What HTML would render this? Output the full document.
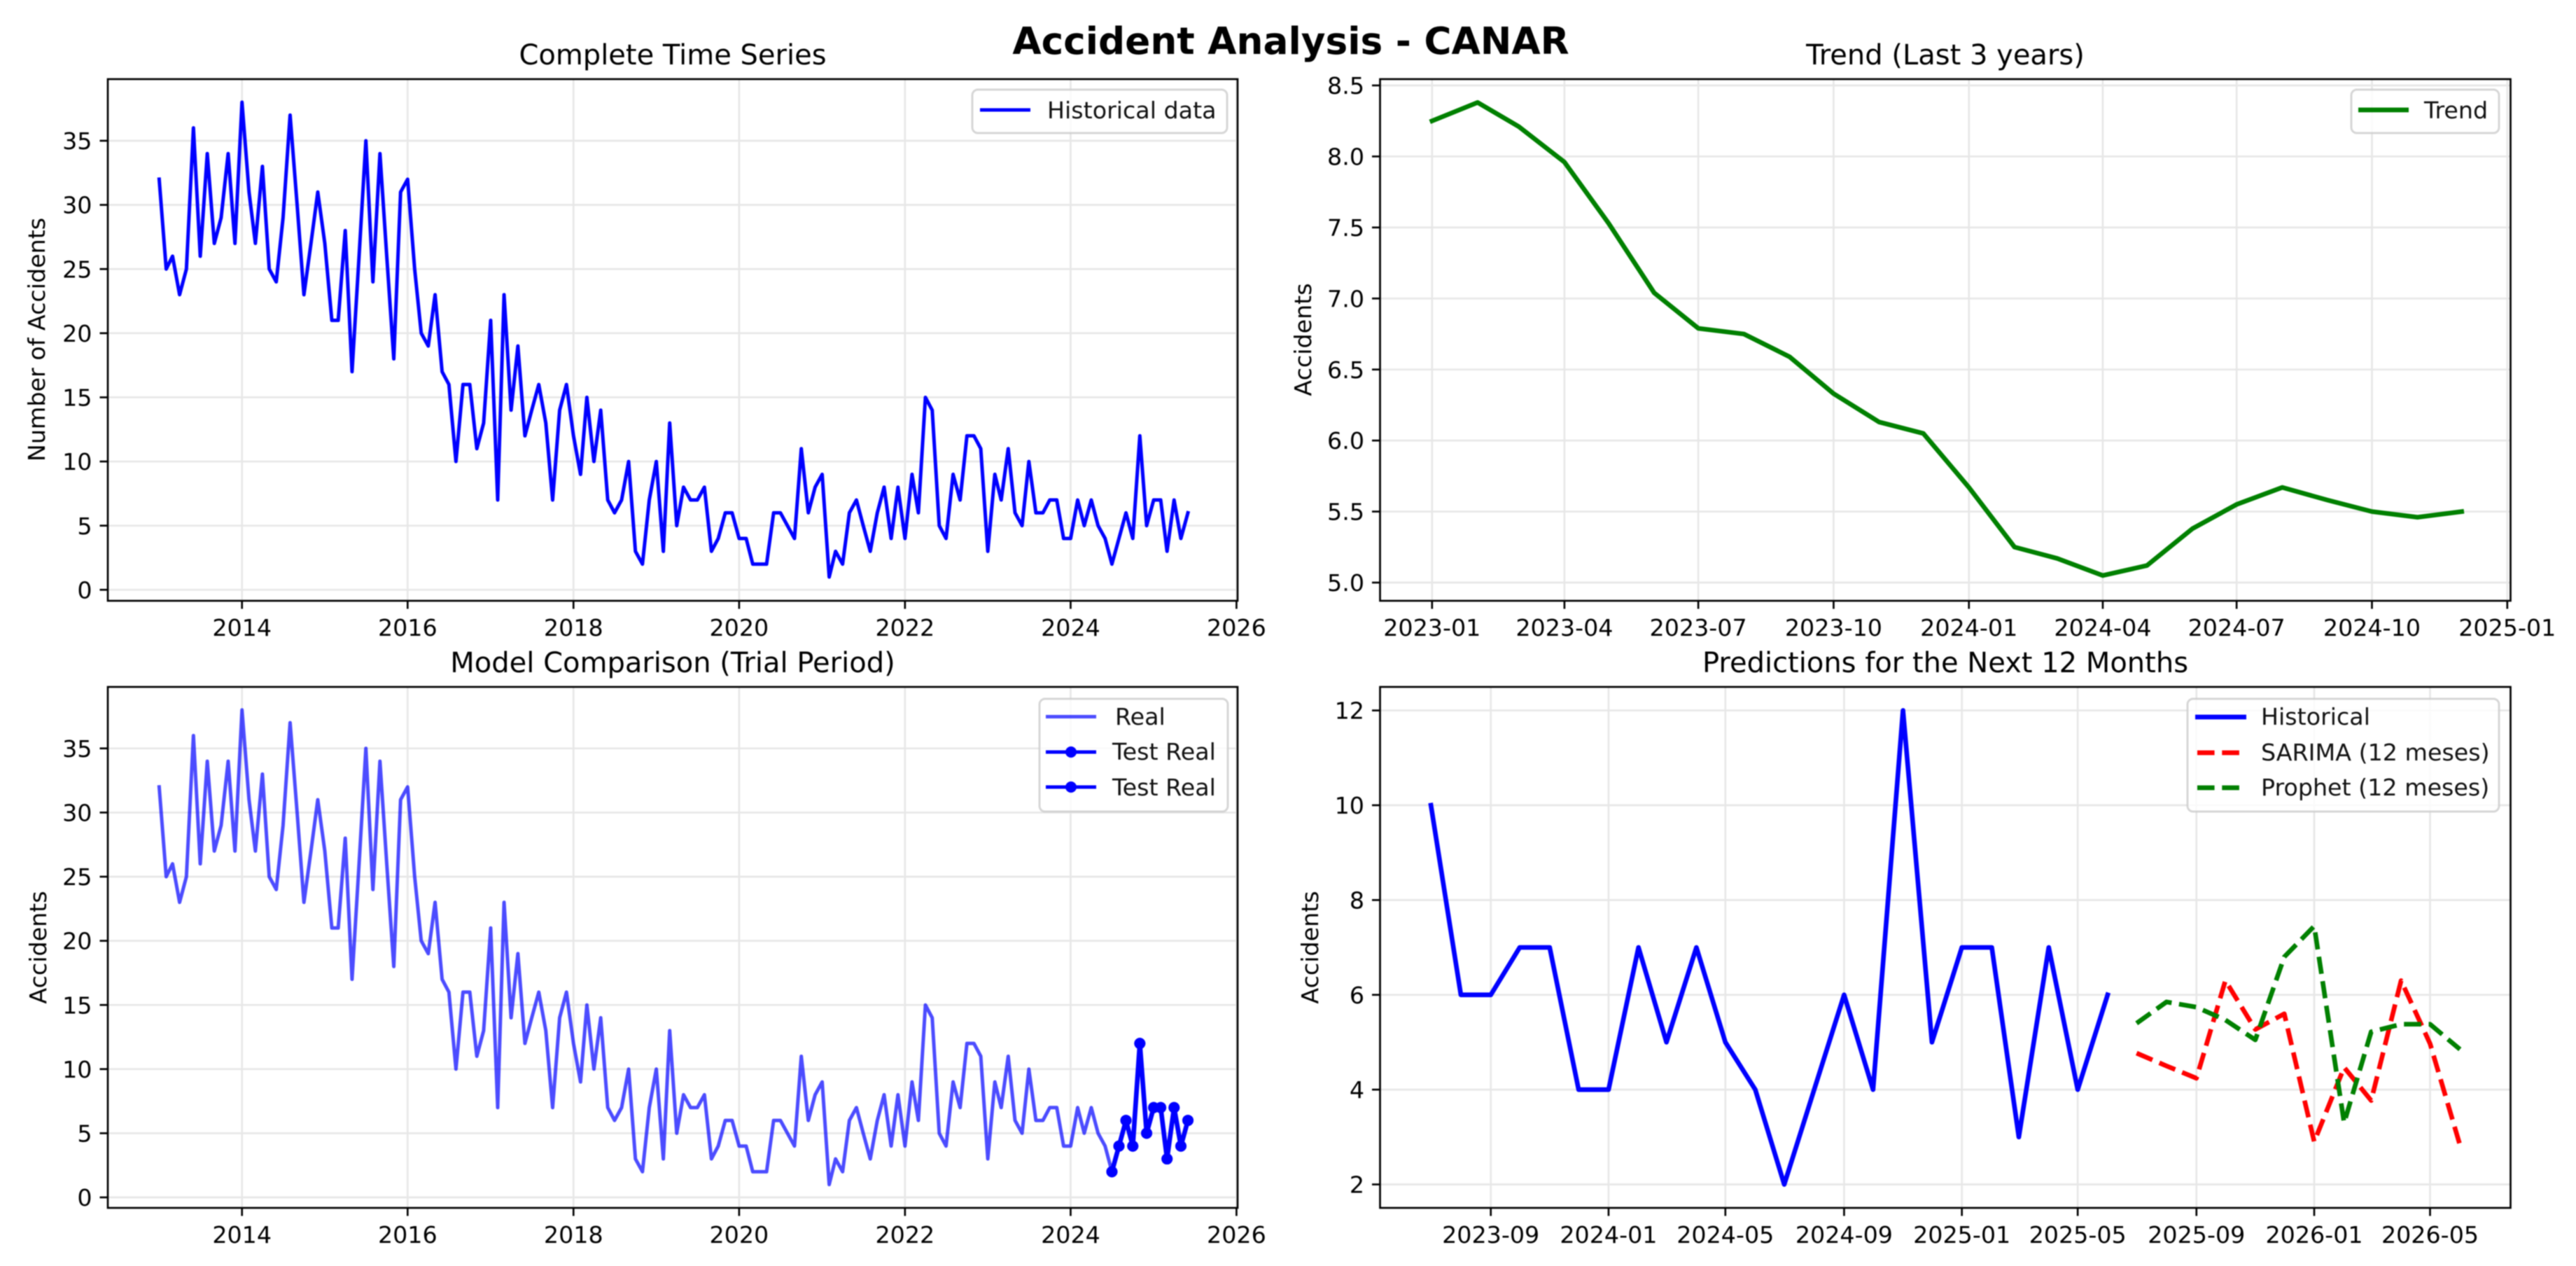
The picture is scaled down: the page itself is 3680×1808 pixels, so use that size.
<!DOCTYPE html>
<html lang="en">
<head>
<meta charset="utf-8">
<title>Accident Analysis - CANAR</title>
<style>
  html, body { margin: 0; padding: 0; background: #fff; }
  #figure { display: block; width: 3680px; height: 1808px; background: #fff; filter: blur(0.9px); }
  text { font-family: "DejaVu Sans", "Liberation Sans", sans-serif; fill: #000; }
  .tick-text, .axis-title, .legend-text { font-size: 33.3px; }
  .panel-title { font-size: 40px; text-anchor: middle; }
  .legend-text { fill: #111; }
</style>
</head>
<body>
<svg id="figure" xmlns="http://www.w3.org/2000/svg" width="3680" height="1808" viewBox="0 0 3680 1808">
  <rect x="0" y="0" width="3680" height="1808" fill="#ffffff"/>

  <g id="panel-history"></g>
  <g id="panel-trend"></g>
  <g id="panel-comparison"></g>
  <g id="panel-forecast"></g>

  <text x="1844" y="77" text-anchor="middle" style="font-weight:700;font-size:53.3px">Accident Analysis - CANAR</text>
  <text class="panel-title" x="961" y="92">Complete Time Series</text>
  <text class="panel-title" x="2779" y="92">Trend (Last 3 years)</text>
  <text class="panel-title" x="961" y="960">Model Comparison (Trial Period)</text>
  <text class="panel-title" x="2779" y="960">Predictions for the Next 12 Months</text>

  <text class="axis-title" transform="translate(64,485) rotate(-90)" text-anchor="middle">Number of Accidents</text>
  <text class="axis-title" transform="translate(1873,485) rotate(-90)" text-anchor="middle">Accidents</text>
  <text class="axis-title" transform="translate(66,1353) rotate(-90)" text-anchor="middle">Accidents</text>
  <text class="axis-title" transform="translate(1883,1353) rotate(-90)" text-anchor="middle">Accidents</text>

  <g>
    <rect x="1389" y="128" width="364" height="62" rx="8" fill="#ffffff" fill-opacity="0.8" stroke="#cccccc" stroke-opacity="0.8" stroke-width="3"/>
    <line x1="1400" x2="1472" y1="157" y2="157" stroke="#0000ff" stroke-width="5"/>
    <text class="legend-text" x="1496" y="169">Historical data</text>
  </g>

  <g>
    <rect x="3359" y="128" width="211" height="62" rx="8" fill="#ffffff" fill-opacity="0.8" stroke="#cccccc" stroke-opacity="0.8" stroke-width="3"/>
    <line x1="3369" x2="3441" y1="157" y2="157" stroke="#008000" stroke-width="6.67"/>
    <text class="legend-text" x="3463" y="169">Trend</text>
  </g>

  <g>
    <rect x="1485" y="998" width="269" height="161" rx="8" fill="#ffffff" fill-opacity="0.8" stroke="#cccccc" stroke-opacity="0.8" stroke-width="3"/>
    <line x1="1494" x2="1566" y1="1023.5" y2="1023.5" stroke="#0000ff" stroke-opacity="0.7" stroke-width="5"/>
    <text class="legend-text" x="1593" y="1035">Real</text>
    <line x1="1494" x2="1566" y1="1074" y2="1074" stroke="#0000ff" stroke-width="5"/>
    <circle cx="1530" cy="1074" r="8" fill="#0000ff"/>
    <text class="legend-text" x="1589" y="1085">Test Real</text>
    <line x1="1494" x2="1566" y1="1124" y2="1124" stroke="#0000ff" stroke-width="5"/>
    <circle cx="1530" cy="1124" r="8" fill="#0000ff"/>
    <text class="legend-text" x="1589" y="1136">Test Real</text>
  </g>

  <g>
    <rect x="3125" y="998" width="445" height="161" rx="8" fill="#ffffff" fill-opacity="0.8" stroke="#cccccc" stroke-opacity="0.8" stroke-width="3"/>
    <line x1="3136" x2="3209" y1="1024" y2="1024" stroke="#0000ff" stroke-width="6.67"/>
    <text class="legend-text" x="3230" y="1035">Historical</text>
    <line x1="3139" x2="3209" y1="1075" y2="1075" stroke="#ff0000" stroke-width="6.67" stroke-dasharray="24.6 10.7"/>
    <text class="legend-text" x="3230" y="1086">SARIMA (12 meses)</text>
    <line x1="3139" x2="3209" y1="1125" y2="1125" stroke="#008000" stroke-width="6.67" stroke-dasharray="24.6 10.7"/>
    <text class="legend-text" x="3230" y="1136">Prophet (12 meses)</text>
  </g>
</svg>

<script>
// ---------- chart data ----------
const historyMonths = [
  "2013-01","2013-02","2013-03","2013-04","2013-05","2013-06","2013-07","2013-08","2013-09","2013-10","2013-11","2013-12",
  "2014-01","2014-02","2014-03","2014-04","2014-05","2014-06","2014-07","2014-08","2014-09","2014-10","2014-11","2014-12",
  "2015-01","2015-02","2015-03","2015-04","2015-05","2015-06","2015-07","2015-08","2015-09","2015-10","2015-11","2015-12",
  "2016-01","2016-02","2016-03","2016-04","2016-05","2016-06","2016-07","2016-08","2016-09","2016-10","2016-11","2016-12",
  "2017-01","2017-02","2017-03","2017-04","2017-05","2017-06","2017-07","2017-08","2017-09","2017-10","2017-11","2017-12",
  "2018-01","2018-02","2018-03","2018-04","2018-05","2018-06","2018-07","2018-08","2018-09","2018-10","2018-11","2018-12",
  "2019-01","2019-02","2019-03","2019-04","2019-05","2019-06","2019-07","2019-08","2019-09","2019-10","2019-11","2019-12",
  "2020-01","2020-02","2020-03","2020-04","2020-05","2020-06","2020-07","2020-08","2020-09","2020-10","2020-11","2020-12",
  "2021-01","2021-02","2021-03","2021-04","2021-05","2021-06","2021-07","2021-08","2021-09","2021-10","2021-11","2021-12",
  "2022-01","2022-02","2022-03","2022-04","2022-05","2022-06","2022-07","2022-08","2022-09","2022-10","2022-11","2022-12",
  "2023-01","2023-02","2023-03","2023-04","2023-05","2023-06","2023-07","2023-08","2023-09","2023-10","2023-11","2023-12",
  "2024-01","2024-02","2024-03","2024-04","2024-05","2024-06","2024-07","2024-08","2024-09","2024-10","2024-11","2024-12",
  "2025-01","2025-02","2025-03","2025-04","2025-05","2025-06"
];
const historyValues = [
  32,25,26,23,25,36,26,34,27,29,34,27,
  38,31,27,33,25,24,29,37,30,23,27,31,
  27,21,21,28,17,26,35,24,34,26,18,31,
  32,25,20,19,23,17,16,10,16,16,11,13,
  21,7,23,14,19,12,14,16,13,7,14,16,
  12,9,15,10,14,7,6,7,10,3,2,7,
  10,3,13,5,8,7,7,8,3,4,6,6,
  4,4,2,2,2,6,6,5,4,11,6,8,
  9,1,3,2,6,7,5,3,6,8,4,8,
  4,9,6,15,14,5,4,9,7,12,12,11,
  3,9,7,11,6,5,10,6,6,7,7,4,
  4,7,5,7,5,4,2,4,6,4,12,5,
  7,7,3,7,4,6
];
const comparisonRealValues = [
  32,25,26,23,25,36,26,34,27,29,34,27,
  38,31,27,33,25,24,29,37,30,23,27,31,
  27,21,21,28,17,26,35,24,34,26,18,31,
  32,25,20,19,23,17,16,10,16,16,11,13,
  21,7,23,14,19,12,14,16,13,7,14,16,
  12,9,15,10,14,7,6,7,10,3,2,7,
  10,3,13,5,8,7,7,8,3,4,6,6,
  4,4,2,2,2,6,6,5,4,11,6,8,
  9,1,3,2,6,7,5,3,6,8,4,8,
  4,9,6,15,14,5,4,9,7,12,12,11,
  3,9,7,11,6,5,10,6,6,7,7,4,
  4,7,5,7,5,4,2,4,6,4,12,5,
  7,7,3,7,4,6
];
const testMonths = ["2024-07","2024-08","2024-09","2024-10","2024-11","2024-12","2025-01","2025-02","2025-03","2025-04","2025-05","2025-06"];
const testRealValuesA = [2,4,6,4,12,5,7,7,3,7,4,6];
const testRealValuesB = [2,4,6,4,12,5,7,7,3,7,4,6];

const trendMonths = [
  "2023-01","2023-02","2023-03","2023-04","2023-05","2023-06","2023-07","2023-08","2023-09","2023-10","2023-11","2023-12",
  "2024-01","2024-02","2024-03","2024-04","2024-05","2024-06","2024-07","2024-08","2024-09","2024-10","2024-11","2024-12"
];
const trendValues = [8.25,8.38,8.21,7.96,7.53,7.04,6.79,6.75,6.59,6.33,6.13,6.05,5.67,5.25,5.17,5.05,5.12,5.38,5.55,5.67,5.58,5.50,5.46,5.50];

const recentMonths = [
  "2023-07","2023-08","2023-09","2023-10","2023-11","2023-12",
  "2024-01","2024-02","2024-03","2024-04","2024-05","2024-06","2024-07","2024-08","2024-09","2024-10","2024-11","2024-12",
  "2025-01","2025-02","2025-03","2025-04","2025-05","2025-06"
];
const recentValues = [10,6,6,7,7,4,4,7,5,7,5,4,2,4,6,4,12,5,7,7,3,7,4,6];
const forecastMonths = ["2025-07","2025-08","2025-09","2025-10","2025-11","2025-12","2026-01","2026-02","2026-03","2026-04","2026-05","2026-06"];
const sarimaValues = [4.77,4.5,4.24,6.3,5.27,5.6,2.9,4.47,3.77,6.3,4.97,2.83];
const prophetValues = [5.4,5.85,5.74,5.47,5.05,6.8,7.45,3.3,5.22,5.38,5.38,4.85];

const yearTickLabels = ["2014","2016","2018","2020","2022","2024","2026"];
const countTickLabels = ["0","5","10","15","20","25","30","35"];
const trendXTickLabels = ["2023-01","2023-04","2023-07","2023-10","2024-01","2024-04","2024-07","2024-10","2025-01"];
const trendYTickLabels = ["5.0","5.5","6.0","6.5","7.0","7.5","8.0","8.5"];
const forecastXTickLabels = ["2023-09","2024-01","2024-05","2024-09","2025-01","2025-05","2025-09","2026-01","2026-05"];
const forecastYTickLabels = ["2","4","6","8","10","12"];

// ---------- drawing helpers ----------
const SVG_NS = 'http://www.w3.org/2000/svg';

function toDay(label) {
  const parts = label.split('-');
  const year = Number(parts[0]);
  const month = parts.length > 1 ? Number(parts[1]) - 1 : 0;
  return Date.UTC(year, month, 1) / 86400000;
}

function linearScale(d0, p0, d1, p1) {
  return function (v) { return p0 + (v - d0) * (p1 - p0) / (d1 - d0); };
}

function shape(parent, tag, attrs, name) {
  const el = document.createElementNS(SVG_NS, tag);
  for (const key in attrs) { el.setAttribute(key, attrs[key]); }
  
  
  parent.appendChild(el);
  return el;
}

function drawGridAndTicks(group, box, xScale, yScale, xLabels, yLabels, prefix) {
  const gridColor = '#e7e7e7';
  xLabels.forEach(function (label) {
    const px = xScale(toDay(label));
    shape(group, 'line', { x1: px, x2: px, y1: box.top, y2: box.bottom, stroke: gridColor, 'stroke-width': 2.67 }, prefix + '-x-gridline');
  });
  yLabels.forEach(function (label) {
    const py = yScale(Number(label));
    shape(group, 'line', { x1: box.left, x2: box.right, y1: py, y2: py, stroke: gridColor, 'stroke-width': 2.67 }, prefix + '-y-gridline');
  });
}

function drawFrameAndLabels(group, box, xScale, yScale, xLabels, yLabels, prefix) {
  shape(group, 'rect', { x: box.left, y: box.top, width: box.right - box.left, height: box.bottom - box.top, fill: 'none', stroke: '#000', 'stroke-width': 2.67 }, prefix + '-axes-frame');
  xLabels.forEach(function (label) {
    const px = xScale(toDay(label));
    shape(group, 'line', { x1: px, x2: px, y1: box.bottom, y2: box.bottom + 11.5, stroke: '#000', 'stroke-width': 2.67 }, prefix + '-x-tick');
    const t = shape(group, 'text', { x: px, y: box.bottom + 50, 'text-anchor': 'middle', class: 'tick-text' }, prefix + '-x-tick-label');
    t.textContent = label;
  });
  yLabels.forEach(function (label) {
    const py = yScale(Number(label));
    shape(group, 'line', { x1: box.left - 11.5, x2: box.left, y1: py, y2: py, stroke: '#000', 'stroke-width': 2.67 }, prefix + '-y-tick');
    const t = shape(group, 'text', { x: box.left - 22.5, y: py + 12.1, 'text-anchor': 'end', class: 'tick-text' }, prefix + '-y-tick-label');
    t.textContent = label;
  });
}

function drawSeries(group, months, values, xScale, yScale, style, name) {
  const pts = values.map(function (v, i) {
    return xScale(toDay(months[i])).toFixed(2) + ',' + yScale(v).toFixed(2);
  }).join(' ');
  const attrs = { points: pts, fill: 'none', stroke: style.color, 'stroke-width': style.width, 'stroke-linejoin': 'round', 'stroke-linecap': style.dash ? 'butt' : 'square' };
  if (style.opacity) { attrs['stroke-opacity'] = style.opacity; }
  if (style.dash) { attrs['stroke-dasharray'] = style.dash; }
  shape(group, 'polyline', attrs, name);
  if (style.marker) {
    values.forEach(function (v, i) {
      shape(group, 'circle', { cx: xScale(toDay(months[i])), cy: yScale(v), r: style.marker, fill: style.color }, name + '-point');
    });
  }
}

// ---------- panel 1: complete time series ----------
const boxHistory = { left: 154, right: 1768, top: 113, bottom: 858 };
const xHistory = linearScale(toDay('2014-01'), 345.7, toDay('2026-01'), 1766.4);
const yHistory = linearScale(0, 842.3, 35, 201);
const groupHistory = document.getElementById('panel-history');
drawGridAndTicks(groupHistory, boxHistory, xHistory, yHistory, yearTickLabels, countTickLabels, 'history');
drawSeries(groupHistory, historyMonths, historyValues, xHistory, yHistory, { color: '#0000ff', width: 5 }, 'historical-data-line');
drawFrameAndLabels(groupHistory, boxHistory, xHistory, yHistory, yearTickLabels, countTickLabels, 'history');

// ---------- panel 2: trend ----------
const boxTrend = { left: 1971.5, right: 3586.5, top: 113, bottom: 858 };
const xTrend = linearScale(toDay('2023-01'), 2045.8, toDay('2025-01'), 3581.8);
const yTrend = linearScale(5, 832, 8.5, 122);
const groupTrend = document.getElementById('panel-trend');
drawGridAndTicks(groupTrend, boxTrend, xTrend, yTrend, trendXTickLabels, trendYTickLabels, 'trend');
drawSeries(groupTrend, trendMonths, trendValues, xTrend, yTrend, { color: '#008000', width: 6.67 }, 'trend-line');
drawFrameAndLabels(groupTrend, boxTrend, xTrend, yTrend, trendXTickLabels, trendYTickLabels, 'trend');

// ---------- panel 3: model comparison ----------
const boxComparison = { left: 154, right: 1768, top: 981, bottom: 1725 };
const xComparison = linearScale(toDay('2014-01'), 345.7, toDay('2026-01'), 1766.4);
const yComparison = linearScale(0, 1710, 35, 1068.8);
const groupComparison = document.getElementById('panel-comparison');
drawGridAndTicks(groupComparison, boxComparison, xComparison, yComparison, yearTickLabels, countTickLabels, 'comparison');
drawSeries(groupComparison, historyMonths, comparisonRealValues, xComparison, yComparison, { color: '#0000ff', width: 5, opacity: 0.7 }, 'real-line');
drawSeries(groupComparison, testMonths, testRealValuesA, xComparison, yComparison, { color: '#0000ff', width: 6.67, marker: 8 }, 'test-real-line-1');
drawSeries(groupComparison, testMonths, testRealValuesB, xComparison, yComparison, { color: '#0000ff', width: 5, marker: 8 }, 'test-real-line-2');
drawFrameAndLabels(groupComparison, boxComparison, xComparison, yComparison, yearTickLabels, countTickLabels, 'comparison');

// ---------- panel 4: forecast ----------
const boxForecast = { left: 1971.5, right: 3586.5, top: 981, bottom: 1725 };
const xForecast = linearScale(toDay('2023-09'), 2129.7, toDay('2026-05'), 3471.5);
const yForecast = linearScale(2, 1691.5, 12, 1014.6);
const groupForecast = document.getElementById('panel-forecast');
drawGridAndTicks(groupForecast, boxForecast, xForecast, yForecast, forecastXTickLabels, forecastYTickLabels, 'forecast');
drawSeries(groupForecast, recentMonths, recentValues, xForecast, yForecast, { color: '#0000ff', width: 6.67 }, 'historical-line');
drawSeries(groupForecast, forecastMonths, sarimaValues, xForecast, yForecast, { color: '#ff0000', width: 6.67, dash: '24.6 10.7' }, 'sarima-forecast-line');
drawSeries(groupForecast, forecastMonths, prophetValues, xForecast, yForecast, { color: '#008000', width: 6.67, dash: '24.6 10.7' }, 'prophet-forecast-line');
drawFrameAndLabels(groupForecast, boxForecast, xForecast, yForecast, forecastXTickLabels, forecastYTickLabels, 'forecast');
</script>
</body>
</html>
